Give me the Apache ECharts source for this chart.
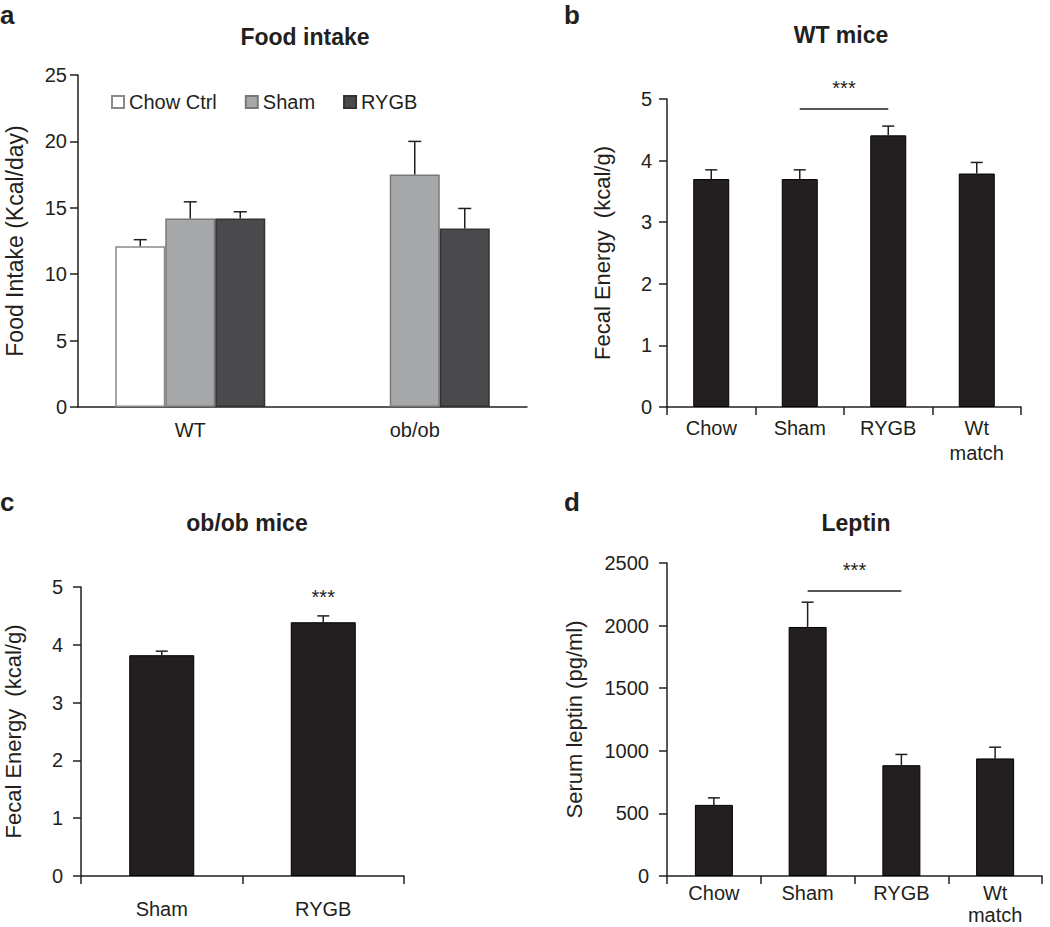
<!DOCTYPE html>
<html><head><meta charset="utf-8">
<script src="https://cdn.jsdelivr.net/npm/echarts@6/dist/echarts.min.js"></script>
<style>html,body{margin:0;padding:0;background:#fff}#c{width:1050px;height:927px}</style>
</head><body><div id="c"></div>
<script>
// ---- Panel a: Food intake ----
const foodCategories = ['WT', 'ob/ob'];
const foodGroups = ['Chow Ctrl', 'Sham', 'RYGB'];
const foodChow = [12.1, null];
const foodChowSem = [0.5, null];
const foodSham = [14.2, 17.5];
const foodShamSem = [1.25, 2.5];
const foodRygb = [14.2, 13.45];
const foodRygbSem = [0.5, 1.5];
const foodTicks = [0, 5, 10, 15, 20, 25];

// ---- Panel b: WT mice fecal energy ----
const wtCategories = ['Chow', 'Sham', 'RYGB', 'Wt\nmatch'];
const wtFecal = [3.70, 3.70, 4.41, 3.79];
const wtFecalSem = [0.15, 0.15, 0.15, 0.18];
const wtSigPair = ['Sham', 'RYGB'];
const wtSigLevel = 4.84;
const fecalTicks = [0, 1, 2, 3, 4, 5];

// ---- Panel c: ob/ob mice fecal energy ----
const obCategories = ['Sham', 'RYGB'];
const obFecal = [3.82, 4.39];
const obFecalSem = [0.07, 0.11];
const obSigCategory = 'RYGB';
const obSigLevel = 4.83;

// ---- Panel d: Leptin ----
const leptinCategories = ['Chow', 'Sham', 'RYGB', 'Wt\nmatch'];
const leptin = [568, 1989, 885, 939];
const leptinSem = [56, 198, 86, 90];
const leptinSigPair = ['Sham', 'RYGB'];
const leptinSigLevel = 2280;
const leptinTicks = [0, 500, 1000, 1500, 2000, 2500];

const INK = '#231f20';
const FONT = 'Liberation Sans, Arial, sans-serif';

function errData(means, sems) {
  const out = [];
  means.forEach((m, i) => { if (m != null) out.push([i, m, sems[i]]); });
  return out;
}
function errorBars(offset, cap) {
  return function (params, api) {
    const i = api.value(0);
    const base = api.coord([i, api.value(1)]);
    const top = api.coord([i, api.value(1) + api.value(2)]);
    const x = base[0] + offset;
    const st = { stroke: INK, lineWidth: 1.5, fill: null };
    return { type: 'group', children: [
      { type: 'line', shape: { x1: x, y1: base[1], x2: x, y2: top[1] }, style: st },
      { type: 'line', shape: { x1: x - cap / 2, y1: top[1], x2: x + cap / 2, y2: top[1] }, style: st }
    ]};
  };
}
function yAxisFor(gi, ticks, name, nameGap, margin, nameSize) {
  return {
    type: 'value', gridIndex: gi,
    min: ticks[0], max: ticks[ticks.length - 1], interval: ticks[1] - ticks[0],
    name: name, nameLocation: 'middle', nameGap: nameGap, nameRotate: 90,
    nameTextStyle: { fontSize: nameSize, color: INK, fontFamily: FONT },
    axisLine: { show: true, lineStyle: { color: INK, width: 1.5 } },
    axisTick: { show: true, inside: false, length: 8, lineStyle: { color: INK, width: 1.5 } },
    axisLabel: { fontSize: 20, color: INK, fontFamily: FONT, margin: margin, formatter: v => String(v) },
    splitLine: { show: false }
  };
}
function xAxisFor(gi, cats, ticks, margin, lineHeight) {
  return {
    type: 'category', gridIndex: gi, data: cats,
    axisLine: { show: true, lineStyle: { color: INK, width: 1.5 } },
    axisTick: { show: ticks, alignWithLabel: false, length: 8, lineStyle: { color: INK, width: 1.5 } },
    axisLabel: { fontSize: 20, color: INK, fontFamily: FONT, margin: margin, lineHeight: lineHeight, interval: 0 },
    splitLine: { show: false }
  };
}
function sigLine(pair, level) {
  return {
    silent: true, symbol: 'none', animation: false,
    lineStyle: { color: INK, width: 1.5, type: 'solid' },
    label: { show: true, position: 'middle', formatter: '***', fontSize: 20, color: INK, fontFamily: FONT, distance: 11 },
    emphasis: { disabled: true },
    data: [[{ coord: [pair[0], level] }, { coord: [pair[1], level] }]]
  };
}

const chart = echarts.init(document.getElementById('c'), null, { renderer: 'svg' });
const titleStyle = (txt, x, y, size) => ({
  type: 'text', x: x, y: y,
  style: { text: txt, font: 'bold ' + size + 'px ' + FONT, fill: INK, align: 'center', verticalAlign: 'middle' }
});
const letterStyle = (txt, x, y) => ({
  type: 'text', x: x, y: y,
  style: { text: txt, font: 'bold 26px ' + FONT, fill: INK, align: 'left', verticalAlign: 'top' }
});

chart.setOption({
  animation: false,
  backgroundColor: '#fff',
  textStyle: { fontFamily: FONT },
  grid: [
    { left: 78, top: 75, width: 449, height: 332, outerBoundsMode: 'none' },
    { left: 667, top: 99, width: 354, height: 308, outerBoundsMode: 'none' },
    { left: 81, top: 587, width: 323, height: 289, outerBoundsMode: 'none' },
    { left: 667, top: 563, width: 375, height: 313, outerBoundsMode: 'none' }
  ],
  legend: {
    data: foodGroups, left: 111, top: 92, padding: 0, itemGap: 28,
    icon: 'rect', itemWidth: 12, itemHeight: 12, selectedMode: false,
    textStyle: { fontSize: 20, color: INK, fontFamily: FONT }
  },
  xAxis: [
    xAxisFor(0, foodCategories, false, 10, 25),
    xAxisFor(1, wtCategories, true, 8, 25),
    xAxisFor(2, obCategories, true, 20, 25),
    xAxisFor(3, leptinCategories, true, 6, 22)
  ],
  yAxis: [
    yAxisFor(0, foodTicks, 'Food Intake (Kcal/day)', 52, 11, 23),
    yAxisFor(1, fecalTicks, 'Fecal Energy  (kcal/g)', 54, 15, 22),
    yAxisFor(2, fecalTicks, 'Fecal Energy  (kcal/g)', 57, 18, 22),
    yAxisFor(3, leptinTicks, 'Serum leptin (pg/ml)', 82, 18, 22)
  ],
  graphic: [
    letterStyle('a', 0, 2),
    letterStyle('b', 564, 2),
    letterStyle('c', 0, 489),
    letterStyle('d', 564, 489),
    titleStyle('Food intake', 305, 37, 23),
    titleStyle('WT mice', 841, 35, 23),
    titleStyle('ob/ob mice', 247, 523, 23),
    titleStyle('Leptin', 856, 523, 23)
  ],
  series: [
    { name: 'Chow Ctrl', type: 'bar', xAxisIndex: 0, yAxisIndex: 0, data: foodChow, barWidth: 50, barGap: '0%',
      itemStyle: { color: '#ffffff', borderColor: '#8a8a8c', borderWidth: 1.5 } },
    { name: 'Sham', type: 'bar', xAxisIndex: 0, yAxisIndex: 0, data: foodSham, barWidth: 50, barGap: '0%',
      itemStyle: { color: '#a7a8aa', borderColor: '#77787a', borderWidth: 1.5 } },
    { name: 'RYGB', type: 'bar', xAxisIndex: 0, yAxisIndex: 0, data: foodRygb, barWidth: 50, barGap: '0%',
      itemStyle: { color: '#4a4a4c', borderColor: '#333335', borderWidth: 1.5 } },
    { type: 'custom', xAxisIndex: 0, yAxisIndex: 0, renderItem: errorBars(-50, 13), data: errData(foodChow, foodChowSem), z: 5, silent: true },
    { type: 'custom', xAxisIndex: 0, yAxisIndex: 0, renderItem: errorBars(0, 13), data: errData(foodSham, foodShamSem), z: 5, silent: true },
    { type: 'custom', xAxisIndex: 0, yAxisIndex: 0, renderItem: errorBars(50, 13), data: errData(foodRygb, foodRygbSem), z: 5, silent: true },

    { type: 'bar', xAxisIndex: 1, yAxisIndex: 1, data: wtFecal, barWidth: 36,
      itemStyle: { color: INK, borderColor: '#000', borderWidth: 1 },
      markLine: sigLine(wtSigPair, wtSigLevel) },
    { type: 'custom', xAxisIndex: 1, yAxisIndex: 1, renderItem: errorBars(0, 12), data: errData(wtFecal, wtFecalSem), z: 5, silent: true },

    { type: 'bar', xAxisIndex: 2, yAxisIndex: 2, data: obFecal, barWidth: 65,
      itemStyle: { color: INK, borderColor: '#000', borderWidth: 1 },
      markPoint: { silent: true, symbol: 'circle', symbolSize: 0,
        label: { show: true, position: 'inside', formatter: '***', fontSize: 20, color: INK, fontFamily: FONT },
        data: [{ coord: [obSigCategory, obSigLevel] }] } },
    { type: 'custom', xAxisIndex: 2, yAxisIndex: 2, renderItem: errorBars(0, 12), data: errData(obFecal, obFecalSem), z: 5, silent: true },

    { type: 'bar', xAxisIndex: 3, yAxisIndex: 3, data: leptin, barWidth: 38,
      itemStyle: { color: INK, borderColor: '#000', borderWidth: 1 },
      markLine: sigLine(leptinSigPair, leptinSigLevel) },
    { type: 'custom', xAxisIndex: 3, yAxisIndex: 3, renderItem: errorBars(0, 12), data: errData(leptin, leptinSem), z: 5, silent: true }
  ]
});
</script>
</body></html>
